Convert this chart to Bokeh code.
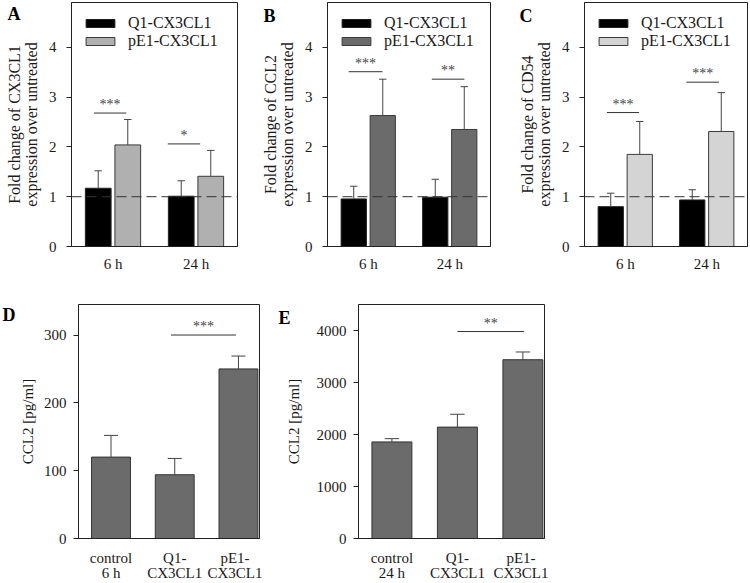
from bokeh.plotting import figure
from bokeh.models import Range1d, FixedTicker, Span, Label, Legend, LegendItem
from bokeh.layouts import row, column
from bokeh.embed import file_html
from bokeh.resources import INLINE

FONT = "Liberation Serif"
TXT = "#1a1a1a"

# ---------------- data ----------------
time_points = ["6 h", "24 h"]
series_names = ["Q1-CX3CL1", "pE1-CX3CL1"]

# Panel A: CX3CL1 fold change
a_q1 = [1.17, 1.01]
a_q1_err = [0.35, 0.31]
a_pe1 = [2.04, 1.41]
a_pe1_err = [0.51, 0.52]
a_sig = ["***", "*"]
a_sig_y = [2.68, 2.06]
a_sig_x0 = [-0.23, 0.66]
a_sig_x1 = [0.16, 1.05]

# Panel B: CCL2 fold change
b_q1 = [0.955, 0.99]
b_q1_err = [0.255, 0.36]
b_pe1 = [2.63, 2.35]
b_pe1_err = [0.73, 0.86]
b_sig = ["***", "**"]
b_sig_y = [3.51, 3.36]
b_sig_x0 = [-0.24, 0.78]
b_sig_x1 = [0.175, 1.18]

# Panel C: CD54 fold change
c_q1 = [0.80, 0.935]
c_q1_err = [0.27, 0.205]
c_pe1 = [1.85, 2.31]
c_pe1_err = [0.66, 0.78]
c_sig = ["***", "***"]
c_sig_y = [2.69, 3.30]
c_sig_x0 = [-0.225, 0.75]
c_sig_x1 = [0.17, 1.15]

# Panel D / E: CCL2 secretion
d_cats = ["control\n6 h", "Q1-\nCX3CL1", "pE1-\nCX3CL1"]
d_vals = [120, 94, 250]
d_err = [32, 24, 19]
d_sig = "***"
d_sig_y = 300
d_sig_x = [0.94, 1.96]

e_cats = ["control\n24 h", "Q1-\nCX3CL1", "pE1-\nCX3CL1"]
e_vals = [1857, 2142, 3438]
e_err = [63, 247, 149]
e_sig = "**"
e_sig_y = 3980
e_sig_x = [1.0, 2.02]


def style(p, yticks, xlabels):
    p.toolbar_location = None
    p.xgrid.visible = False
    p.ygrid.visible = False
    p.outline_line_color = "#222222"
    p.outline_line_width = 1
    p.background_fill_color = "white"
    p.border_fill_color = "white"
    for ax in (p.xaxis[0], p.yaxis[0]):
        ax.axis_line_color = "#222222"
        ax.minor_tick_line_color = None
        ax.major_label_text_font = FONT
        ax.major_label_text_font_size = "15px"
        ax.major_label_text_color = TXT
        ax.axis_label_text_font = FONT
        ax.axis_label_text_font_size = "16px"
        ax.axis_label_text_font_style = "normal"
        ax.axis_label_text_color = TXT
        ax.axis_label_text_line_height = 1.0
    p.xaxis.ticker = FixedTicker(ticks=list(range(len(xlabels))))
    p.xaxis.major_label_overrides = {i: s for i, s in enumerate(xlabels)}
    p.xaxis.major_tick_line_color = None
    p.xaxis.major_label_standoff = 3
    p.yaxis.ticker = FixedTicker(ticks=yticks)
    p.yaxis.major_tick_out = 5
    p.yaxis.major_tick_in = 0
    p.yaxis.major_tick_line_color = "#222222"
    p.yaxis.major_label_standoff = 10


def letter(p, txt, dx_px, dy_px, side):
    # panel letter placed off the frame (offsets in px from the frame's
    # top-left corner, converted through the figure's own scales); it lives
    # in a side panel so it is not clipped to the frame
    xr, yr = p.x_range, p.y_range
    ppx = p.frame_width / (xr.end - xr.start)
    ppy = p.frame_height / (yr.end - yr.start)
    p.add_layout(Label(x=xr.start + dx_px / ppx, y=yr.end - dy_px / ppy,
                       text=txt, text_font=FONT, text_font_size="18px",
                       text_font_style="bold", text_color="black",
                       text_baseline="top", text_align="left"), side)


def sig_mark(p, x0, x1, y, s):
    p.segment(x0=[x0], y0=[y], x1=[x1], y1=[y], line_color="#333333", line_width=1)
    p.add_layout(Label(x=(x0 + x1) / 2, y=y, text=s, text_font=FONT,
                       text_font_size="14px", text_color="#444444",
                       text_align="center", text_baseline="bottom", y_offset=1))


TOP_FH = 244
BOT_FH = 234


def top_panel(ylab, q1, q1e, pe1, pe1e, color, sig, sy, sx0, sx1,
              bl, fw, br):
    p = figure(frame_width=fw, frame_height=TOP_FH, min_border_left=bl,
               min_border_right=br, min_border_top=2, min_border_bottom=44,
               x_range=Range1d(-0.5, 1.5), y_range=Range1d(0, 4.9),
               output_backend="svg", toolbar_location=None)
    style(p, [0, 1, 2, 3, 4], time_points)
    p.yaxis.axis_label = ylab
    p.yaxis.axis_label_standoff = 6
    off = 0.178
    w = 0.31
    xq = [i - off for i in range(len(q1))]
    xp = [i + off for i in range(len(pe1))]
    r1 = p.vbar(x=xq, top=q1, bottom=0, width=w, fill_color="black",
                line_color="#222222", line_width=1)
    r2 = p.vbar(x=xp, top=pe1, bottom=0, width=w, fill_color=color,
                line_color="#3a3a3a", line_width=1)
    cap = 0.045
    for xs, v, e in ((xq, q1, q1e), (xp, pe1, pe1e)):
        tops = [a + b for a, b in zip(v, e)]
        p.segment(x0=xs, y0=v, x1=xs, y1=tops, line_color="#444444", line_width=1)
        p.segment(x0=[x - cap for x in xs], y0=tops, x1=[x + cap for x in xs],
                  y1=tops, line_color="#444444", line_width=1)
    p.add_layout(Span(location=1, dimension="width", line_color="#333333",
                      line_dash="10 5", line_width=1))
    for i in range(len(sig)):
        sig_mark(p, sx0[i], sx1[i], sy[i], sig[i])
    leg = Legend(items=[LegendItem(label=series_names[0], renderers=[r1]),
                        LegendItem(label=series_names[1], renderers=[r2])],
                 location="top_left")
    leg.margin = 0
    leg.padding = 0
    leg.spacing = -4
    leg.glyph_width = 36
    leg.glyph_height = 10
    leg.label_height = 16
    leg.label_standoff = 10
    leg.label_text_font = FONT
    leg.label_text_font_size = "16px"
    leg.label_text_color = TXT
    leg.border_line_alpha = 0
    leg.background_fill_alpha = 0
    leg.location = (11, TOP_FH - 48)
    p.add_layout(leg)
    return p


def bottom_panel(cats, vals, errs, ymax, yticks, sig, sy, sx, bl, fw, br, lstand):
    p = figure(frame_width=fw, frame_height=BOT_FH, min_border_left=bl,
               min_border_right=br, min_border_top=10, min_border_bottom=35,
               x_range=Range1d(-0.51, 2.33), y_range=Range1d(0, ymax),
               output_backend="svg", toolbar_location=None)
    style(p, yticks, cats)
    p.xaxis.major_label_standoff = 5
    p.xaxis.major_label_text_line_height = 0.95
    p.yaxis.major_label_standoff = 7
    p.yaxis.axis_label = "CCL2 [pg/ml]"
    p.yaxis.axis_label_text_font_size = "15px"
    p.yaxis.axis_label_standoff = lstand
    xs = list(range(len(vals)))
    p.vbar(x=xs, top=vals, bottom=0, width=0.61, fill_color="#6b6b6b",
           line_color="#333333", line_width=1)
    tops = [a + b for a, b in zip(vals, errs)]
    cap = 0.11
    p.segment(x0=xs, y0=vals, x1=xs, y1=tops, line_color="#444444", line_width=1)
    p.segment(x0=[x - cap for x in xs], y0=tops, x1=[x + cap for x in xs], y1=tops,
              line_color="#444444", line_width=1)
    sig_mark(p, sx[0], sx[1], sy, sig)
    return p


pa = top_panel("Fold change of CX3CL1\nexpression over untreated",
               a_q1, a_q1_err, a_pe1, a_pe1_err, "#b0b0b0",
               a_sig, a_sig_y, a_sig_x0, a_sig_x1, 71, 166, 13)
pb = top_panel("Fold change of CCL2\nexpression over untreated",
               b_q1, b_q1_err, b_pe1, b_pe1_err, "#6b6b6b",
               b_sig, b_sig_y, b_sig_x0, b_sig_x1, 77, 163, 10)
pc = top_panel("Fold change of CD54\nexpression over untreated",
               c_q1, c_q1_err, c_pe1, c_pe1_err, "#d4d4d4",
               c_sig, c_sig_y, c_sig_x0, c_sig_x1, 84, 163, 1)
pd = bottom_panel(d_cats, d_vals, d_err, 345, [0, 100, 200, 300],
                  d_sig, d_sig_y, d_sig_x, 78, 181, 3, 5)
pe = bottom_panel(e_cats, e_vals, e_err, 4500, [0, 1000, 2000, 3000, 4000],
                  e_sig, e_sig_y, e_sig_x, 96, 186, 4, 12)

letter(pa, "A", -64, 1, "below")
letter(pb, "B", -64, 3, "below")
letter(pc, "C", -65, 3, "below")
letter(pd, "D", -76, 0, "left")
letter(pe, "E", -80, 3, "left")

layout = column(row(pa, pb, pc), row(pd, pe))
open("out.html", "w").write(file_html(layout, INLINE))
